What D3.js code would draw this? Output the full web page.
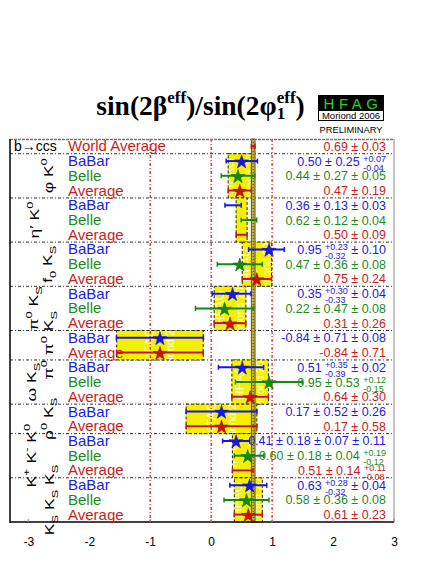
<!DOCTYPE html>
<html><head><meta charset="utf-8">
<script src="https://cdn.jsdelivr.net/npm/d3@7"></script>
<style>body{margin:0;background:#fff} svg{display:block}</style>
</head><body><svg id="c" width="436" height="564" font-family="'Liberation Sans',Arial,Helvetica,sans-serif"></svg>
<script>
// ---------------- DATA ----------------
const groupLabelParts = [
  [["φ",""],["\u00a0K",""],["0","sup"]],
  [["η",""],["′",""],["\u00a0K",""],["0","sup"]],
  [["f",""],["0","sub"],["\u00a0K",""],["S","sub"]],
  [["π",""],["0","sup"],["\u00a0K",""],["S","sub"]],
  [["π",""],["0","sup"],["\u00a0π",""],["0","sup"],["\u00a0K",""],["S","sub"]],
  [["ω",""],["\u00a0K",""],["S","sub"]],
  [["ρ",""],["0","sup"],["\u00a0K",""],["S","sub"]],
  [["K",""],["+","sup"],["\u00a0K",""],["-","sup"],["\u00a0K",""],["0","sup"]],
  [["K",""],["S","sub"],["\u00a0K",""],["S","sub"],["\u00a0K",""],["S","sub"]]
];
const groupSizes = [3,3,3,3,2,3,2,3,3];
const rowExperiments = ["World Average",
  "BaBar","Belle","Average",
  "BaBar","Belle","Average",
  "BaBar","Belle","Average",
  "BaBar","Belle","Average",
  "BaBar","Average",
  "BaBar","Belle","Average",
  "BaBar","Average",
  "BaBar","Belle","Average",
  "BaBar","Belle","Average"];
const rowValues = [0.69,
  0.50,0.44,0.47,
  0.36,0.62,0.50,
  0.95,0.47,0.75,
  0.35,0.22,0.31,
  -0.84,-0.84,
  0.51,0.95,0.64,
  0.17,0.17,
  0.41,0.60,0.51,
  0.63,0.58,0.61];
// each error: number = symmetric, [plus, minus] = asymmetric
const rowErrors = [[0.03],
  [0.25,[0.07,0.04]],[0.27,0.05],[0.19],
  [0.13,0.03],[0.12,0.04],[0.09],
  [[0.23,0.32],0.10],[0.36,0.08],[0.24],
  [[0.30,0.33],0.04],[0.47,0.08],[0.26],
  [0.71,0.08],[0.71],
  [[0.35,0.39],0.02],[0.53,[0.12,0.15]],[0.30],
  [0.52,0.26],[0.58],
  [0.18,0.07,0.11],[0.18,0.04,[0.19,0.12]],[0.14,[0.11,0.08]],
  [[0.28,0.32],0.04],[0.36,0.08],[0.23]];
const rowStar = [false,
  true,true,true,
  false,false,false,
  true,true,true,
  true,true,true,
  true,true,
  true,true,true,
  true,true,
  true,true,false,
  true,true,true];
const xTicks = [-3,-2,-1,0,1,2,3];
const refLines = [-1,0,1];

// ---------------- STYLE / LAYOUT ----------------
const colorOf = {"World Average":"#c81e1e","BaBar":"#1c1ce0","Belle":"#1e8a1e","Average":"#c81e1e"};
const markOf = {"World Average":"#cc1111","BaBar":"#1515ee","Belle":"#108a10","Average":"#cc1111"};
const groupLabelX = [53,39,52,38,53,36,53,36,54];

const svg = d3.select("#c");
const x = d3.scaleLinear().domain([-3.3,3]).range([10,394]);
const nRows = rowValues.length;
const y = d3.scaleBand().domain(d3.range(nRows)).range([139,522]);
const bw = y.bandwidth();
const yc = i => y(i) + bw/2;

function totErr(errs){
  let p=0,m=0;
  errs.forEach(e=>{ if(Array.isArray(e)){p+=e[0]*e[0];m+=e[1]*e[1];} else {p+=e*e;m+=e*e;} });
  return [Math.sqrt(p),Math.sqrt(m)];
}

const groupStart = [];
{ let s=1; groupSizes.forEach(n=>{groupStart.push(s); s+=n;}); }

// separators
svg.append("g").selectAll("line").data(groupStart).join("line")
  .attr("x1",10).attr("x2",394).attr("y1",d=>y(d)).attr("y2",d=>y(d))
  .attr("stroke","#333").attr("stroke-width",1).attr("stroke-dasharray","3,2,1,2");

// yellow boxes per group (average row ± total error)
const defs = svg.append("defs");
const boxes = svg.append("g");
groupSizes.forEach((n,gi)=>{
  const s = groupStart[gi], avgRow = s+n-1;
  const [ep,em] = totErr(rowErrors[avgRow]);
  const x0 = x(rowValues[avgRow]-em), x1 = x(rowValues[avgRow]+ep);
  const y0 = y(s), y1 = y(s)+n*bw;
  defs.append("clipPath").attr("id","cp"+gi).append("rect")
    .attr("x",x0).attr("y",y0).attr("width",x1-x0).attr("height",y1-y0);
  boxes.append("rect").attr("x",x0).attr("y",y0).attr("width",x1-x0).attr("height",y1-y0)
    .attr("fill","#f5f000");
  const wm = boxes.append("g").attr("clip-path","url(#cp"+gi+")");
  const cx = (x0+x1)/2, cy=(y0+y1)/2;
  wm.append("text").attr("transform",`translate(${cx-6},${cy}) rotate(-90)`)
    .attr("text-anchor","middle").attr("font-size",13).attr("fill","#fff").attr("opacity",0.85).text("HFAG");
  wm.append("text").attr("transform",`translate(${cx+14},${cy}) rotate(-90)`)
    .attr("text-anchor","middle").attr("font-size",11).attr("fill","#fff").attr("opacity",0.85).text("Moriond 2006");
  boxes.append("rect").attr("x",x0).attr("y",y0).attr("width",x1-x0).attr("height",y1-y0)
    .attr("fill","none").attr("stroke","#222").attr("stroke-width",1).attr("stroke-dasharray","3,2");
});

// world average band
{
  const [ep,em] = totErr(rowErrors[0]);
  const x0=x(rowValues[0]-em), x1=x(rowValues[0]+ep);
  svg.append("rect").attr("x",x0).attr("y",139).attr("width",x1-x0).attr("height",383)
    .attr("fill","#c4b23c").attr("stroke","#5a5530").attr("stroke-width",1);
  svg.append("line").attr("x1",x(rowValues[0])).attr("x2",x(rowValues[0])).attr("y1",139).attr("y2",522)
    .attr("stroke","#4a4520").attr("stroke-width",1).attr("stroke-dasharray","1,2");
}

// reference red dotted lines
svg.append("g").selectAll("line").data(refLines).join("line")
  .attr("x1",d=>x(d)).attr("x2",d=>x(d)).attr("y1",139).attr("y2",522)
  .attr("stroke","#d83030").attr("stroke-width",1.3).attr("stroke-dasharray","3,2,1,2");

// frame
svg.append("line").attr("x1",10).attr("x2",394).attr("y1",139.5).attr("y2",139.5)
  .attr("stroke","#777").attr("stroke-width",1.5).attr("stroke-dasharray","3,1");
svg.append("line").attr("x1",394).attr("x2",394).attr("y1",139).attr("y2",522).attr("stroke","#888").attr("stroke-width",1);
svg.append("line").attr("x1",10).attr("x2",10).attr("y1",139).attr("y2",523).attr("stroke","#000").attr("stroke-width",1.5);
svg.append("line").attr("x1",10).attr("x2",394).attr("y1",522).attr("y2",522).attr("stroke","#000").attr("stroke-width",1.5);

// x axis
const axisG = svg.append("g").attr("transform","translate(0,522)")
  .call(d3.axisBottom(x).tickValues(xTicks).tickSize(0).tickPadding(0).tickFormat(d=>String(d)));
axisG.select(".domain").remove();
axisG.attr("font-family",null).attr("font-size",null);
axisG.selectAll("text").attr("font-size",12).attr("fill","#000").attr("dy",null).attr("y",24);
svg.append("g").selectAll("line").data(xTicks).join("line")
  .attr("x1",d=>x(d)).attr("x2",d=>x(d)).attr("y1",522).attr("y2",519).attr("stroke","#888");

// error bars and markers
const marks = svg.append("g");
rowValues.forEach((v,i)=>{
  const [ep,em] = totErr(rowErrors[i]);
  const c = markOf[rowExperiments[i]];
  const x0=x(v-em), x1=x(v+ep), yy=yc(i);
  marks.append("line").attr("x1",x0).attr("x2",x1).attr("y1",yy).attr("y2",yy).attr("stroke",c).attr("stroke-width",2);
  [x0,x1].forEach(xx=>marks.append("line").attr("x1",xx).attr("x2",xx).attr("y1",yy-2.5).attr("y2",yy+2.5).attr("stroke",c).attr("stroke-width",1.5));
  if(rowStar[i]){
    marks.append("path").attr("d",d3.symbol(d3.symbolStar,58)())
      .attr("transform",`translate(${x(v)},${yy+1})`).attr("fill",c).attr("stroke",d3.color(c).darker(0.6)).attr("stroke-width",0.6);
  }
});

// row labels
svg.append("g").selectAll("text").data(rowExperiments).join("text")
  .attr("x",68).attr("y",(d,i)=>yc(i)+5).attr("font-size",15)
  .attr("fill",d=>colorOf[d]).text(d=>d);

// b->ccs
svg.append("text").attr("x",14).attr("y",yc(0)+5).attr("font-size",14).attr("fill","#000").text("b→ccs");

// group labels (rotated)
groupLabelParts.forEach((parts,gi)=>{
  const s=groupStart[gi], n=groupSizes[gi];
  const cy = y(s)+n*bw/2;
  const t = svg.append("text").attr("transform",`translate(${groupLabelX[gi]},${cy}) rotate(-90) scale(1.35,1)`)
    .attr("text-anchor","middle").attr("font-size",13).attr("fill","#000");
  let shift=0;
  parts.forEach(([txt,mode])=>{
    let target = mode==="sup"?-6:(mode==="sub"?3.5:0);
    const ts = t.append("tspan").attr("dy",target-shift).text(txt);
    if(mode) ts.attr("font-size",9.5);
    shift=target;
  });
});

// value texts (right aligned)
function fmt(v){ return v.toFixed(2); }
function addText(g,xx,s,family,weight){
  const t=g.append("text").attr("x",xx).attr("y",s.dy||0).attr("font-size",s.size).attr("fill",s.color).text(s.t);
  if(family) t.attr("font-family",family);
  if(weight) t.attr("font-weight",weight);
  return t.node().getComputedTextLength();
}
function drawPieces(g, pieces){
  let xx=0;
  pieces.forEach(p=>{
    if(p.stack){
      let w=0;
      p.stack.forEach(s=>{ w=Math.max(w,addText(g,xx,s,p.family,p.weight)); });
      xx+=w;
    } else {
      xx+=addText(g,xx,p,p.family,p.weight);
    }
  });
  return xx;
}
rowValues.forEach((v,i)=>{
  const c=colorOf[rowExperiments[i]];
  const pieces=[{t:fmt(v),size:12.5,color:c}];
  rowErrors[i].forEach(e=>{
    if(Array.isArray(e)){
      pieces.push({t:"\u00a0",size:12.5,color:c});
      pieces.push({stack:[{t:"+"+fmt(e[0]),dy:-4,size:9,color:c},{t:"-"+fmt(e[1]),dy:5,size:9,color:c}]});
    } else {
      pieces.push({t:"\u00a0±\u00a0"+fmt(e),size:12.5,color:c});
    }
  });
  const g=svg.append("g");
  const w=drawPieces(g,pieces);
  g.attr("transform",`translate(${386-w},${yc(i)+4.5})`);
});

// title
{
  const g=svg.append("g");
  const fam="'Liberation Serif','Times New Roman',Times,serif";
  const F=27.5, S=17;
  const w=drawPieces(g,[
    {t:"sin(2β",size:F,color:"#000",family:fam,weight:"bold"},
    {t:"eff",size:S,color:"#000",family:fam,weight:"bold",dy:-12},
    {t:")/sin(2φ",size:F,color:"#000",family:fam,weight:"bold"},
    {stack:[{t:"eff",dy:-12,size:S,color:"#000"},{t:"1",dy:4,size:S,color:"#000"}],family:fam,weight:"bold"},
    {t:")",size:F,color:"#000",family:fam,weight:"bold"}
  ]);
  g.attr("transform",`translate(${200.5-w/2},115)`);
}

// HFAG logo
svg.append("rect").attr("x",318).attr("y",95).attr("width",66).attr("height",15).attr("fill","#000");
svg.append("text").attr("x",353).attr("y",108.5).attr("text-anchor","middle").attr("font-size",15)
  .attr("letter-spacing",4.5).attr("fill","#22d422").text("HFAG");
svg.append("rect").attr("x",318.5).attr("y",110.5).attr("width",65).attr("height",10).attr("fill","#fff").attr("stroke","#000").attr("stroke-width",1);
svg.append("text").attr("x",351).attr("y",119).attr("text-anchor","middle").attr("font-size",9.5).attr("fill","#000").text("Moriond 2006");
svg.append("text").attr("x",351).attr("y",133).attr("text-anchor","middle").attr("font-size",9.3).attr("fill","#000").text("PRELIMINARY");
</script></body></html>
